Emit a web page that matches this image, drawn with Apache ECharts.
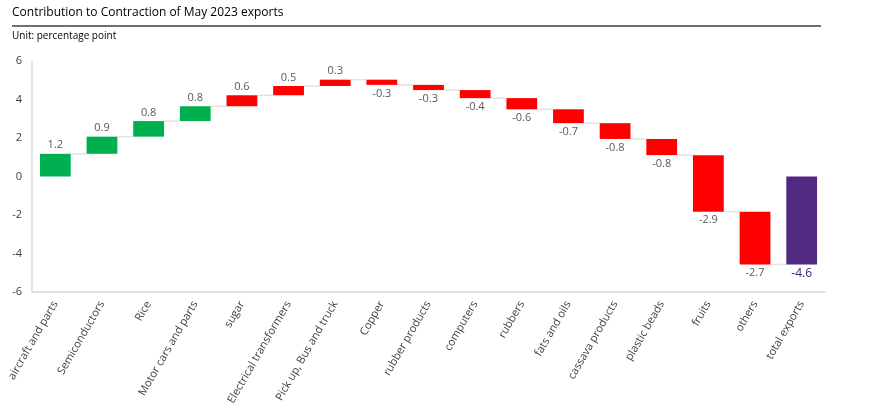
<!DOCTYPE html>
<html>
<head>
<meta charset="utf-8">
<script src="https://cdn.jsdelivr.net/npm/echarts@6/dist/echarts.min.js"></script>
<style>
  html, body { margin: 0; padding: 0; background: #fff; }
  #chart { width: 879px; height: 408px; }
</style>
</head>
<body>
<div id="chart"></div>
<script>
// 类别与数值（百分点）
var categories = ['aircraft and parts', 'Semiconductors', 'Rice', 'Motor cars and parts', 'sugar',
  'Electrical transformers', 'Pick up, Bus and truck', 'Copper', 'rubber products', 'computers',
  'rubbers', 'fats and oils', 'cassava products', 'plastic beads', 'fruits', 'others', 'total exports'];
var contributions = [1.18, 0.89, 0.81, 0.77, 0.57, 0.48, 0.33, -0.27, -0.27, -0.42,
  -0.58, -0.72, -0.82, -0.84, -2.94, -2.74];
var yTicks = [-6, -4, -2, 0, 2, 4, 6];

var GREEN = '#00b050', RED = '#ff0000', PURPLE = '#4f2a80';

// 计算瀑布图的起止
var barData = [];
var connData = [];
var cum = 0;
for (var i = 0; i < contributions.length; i++) {
  var start = cum;
  cum = cum + contributions[i];
  barData.push([i, start, cum, contributions[i]]);
  connData.push([i, cum]);
}
var total = cum;
barData.push([categories.length - 1, 0, total, total]);

var chart = echarts.init(document.getElementById('chart'));

function barColor(i) {
  if (i === categories.length - 1) return PURPLE;
  if (i < 4) return GREEN;
  return RED;
}

var option = {
  animation: false,
  textStyle: { fontFamily: 'Open Sans' },
  grid: { left: 32, right: 54, top: 61, bottom: 116 },
  graphic: [
    { type: 'text', left: 12, top: 7, style: { text: 'Contribution to Contraction of May 2023 exports', fontSize: 12, fill: '#000', fontFamily: 'Open Sans' } },
    { type: 'line', shape: { x1: 12, y1: 26, x2: 821, y2: 26 }, style: { stroke: '#404040', lineWidth: 1.5 } },
    { type: 'text', left: 12, top: 31, style: { text: 'Unit: percentage point', fontSize: 10, fill: '#000', fontFamily: 'Open Sans' } }
  ],
  xAxis: {
    type: 'category',
    data: categories,
    axisLine: { onZero: false, lineStyle: { color: '#d9d9d9', width: 1.5 } },
    axisTick: { show: false },
    axisLabel: { interval: 0, rotate: 60, color: '#404040', fontSize: 11, margin: 10 }
  },
  yAxis: {
    type: 'value',
    min: yTicks[0],
    max: yTicks[yTicks.length - 1],
    interval: 2,
    axisLine: { show: true, lineStyle: { color: '#d9d9d9', width: 1.5 } },
    axisTick: { show: false },
    splitLine: { show: false },
    axisLabel: { color: '#404040', fontSize: 11, margin: 10 }
  },
  series: [
    {
      // 连接线
      type: 'custom',
      data: connData,
      renderItem: function (params, api) {
        var idx = api.value(0);
        var p = api.coord([idx, api.value(1)]);
        var band = api.size([1, 0])[0];
        var w = band * 0.66;
        return {
          type: 'line',
          shape: { x1: p[0] + w / 2, y1: p[1], x2: p[0] + band - w / 2, y2: p[1] },
          style: { stroke: '#e3e3e3', lineWidth: 1.5 }
        };
      }
    },
    {
      type: 'custom',
      data: barData,
      renderItem: function (params, api) {
        var idx = api.value(0);
        var s = api.value(1), e = api.value(2), v = api.value(3);
        var p0 = api.coord([idx, s]);
        var p1 = api.coord([idx, e]);
        var band = api.size([1, 0])[0];
        var w = band * 0.66;
        var top = Math.min(p0[1], p1[1]);
        var h = Math.abs(p1[1] - p0[1]);
        var isTotal = idx === categories.length - 1;
        return {
          type: 'group',
          children: [
            {
              type: 'rect',
              shape: { x: p0[0] - w / 2, y: top, width: w, height: h },
              style: { fill: barColor(idx) }
            },
            {
              type: 'text',
              style: {
                x: p0[0],
                y: v >= 0 ? top - 3 : top + h + 3,
                text: v.toFixed(1),
                align: 'center',
                verticalAlign: v >= 0 ? 'bottom' : 'top',
                fill: isTotal ? '#3a1a6e' : '#595959',
                fontSize: isTotal ? 12 : 11,
                fontFamily: 'Open Sans'
              }
            }
          ]
        };
      }
    }
  ]
};

chart.setOption(option);
</script>
</body>
</html>
